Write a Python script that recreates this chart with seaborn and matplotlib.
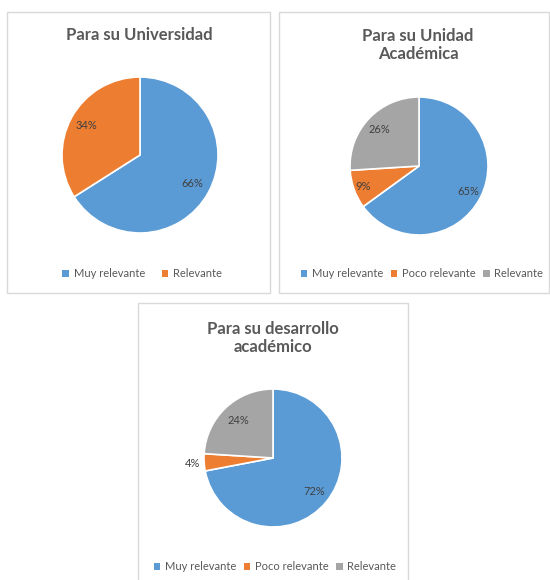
"""Three pie charts: relevance ratings (Universidad / Unidad Académica / desarrollo)."""

import numpy as np
import matplotlib.pyplot as plt
from matplotlib.patches import Patch, Rectangle
import seaborn as sns

# --- data -----------------------------------------------------------------
titles = ["Para su Universidad", "Para su Unidad\nAcadémica", "Para su desarrollo\nacadémico"]
uni_labels = ["Muy relevante", "Relevante"]
uni_values = [66, 34]
unidad_labels = ["Muy relevante", "Poco relevante", "Relevante"]
unidad_values = [65, 9, 26]
desarrollo_labels = ["Muy relevante", "Poco relevante", "Relevante"]
desarrollo_values = [72, 4, 24]

colors = {"Muy relevante": "#5B9BD5", "Poco relevante": "#ED7D31", "Relevante": "#A5A5A5"}
uni_colors = ["#5B9BD5", "#ED7D31"]  # the 2-slice chart uses orange for "Relevante"

W, H = 550, 580

# layout in pixels (from top-left): box, pie centre, radius, title, legend
panels = [
    dict(labels=uni_labels, values=uni_values, cols=uni_colors, title=titles[0],
         box=(7, 12, 263, 281), center=(140, 155), r=78, title_xy=(139, 35),
         leg_xy=(142, 274), colsp=1.5, pct=[0.77, 0.79]),
    dict(labels=unidad_labels, values=unidad_values,
         cols=[colors[l] for l in unidad_labels], title=titles[1],
         box=(279, 12, 270, 281), center=(419, 166), r=69, title_xy=(418, 45),
         leg_xy=(422, 274), colsp=0.7, pct=[0.8, 0.86, 0.78]),
    dict(labels=desarrollo_labels, values=desarrollo_values,
         cols=[colors[l] for l in desarrollo_labels], title=titles[2],
         box=(138, 303, 270, 280), center=(273, 458), r=69, title_xy=(273, 338),
         leg_xy=(275, 567), colsp=0.7, pct=[0.77, 1.17, 0.74]),
]


def fx(px):
    return px / W


def fy(py):
    return 1 - py / H


def main() -> None:
    sns.set_theme(style="white")
    plt.rcParams["font.family"] = ["Lato", "DejaVu Sans"]

    fig = plt.figure(figsize=(W / 100, H / 100), dpi=100)
    fig.patch.set_facecolor("white")

    for p in panels:
        bx, by, bw, bh = p["box"]
        fig.add_artist(Rectangle((fx(bx), fy(by + bh)), bw / W, bh / H,
                                 transform=fig.transFigure, fill=False,
                                 edgecolor="#D9D9D9", linewidth=1))

        cx, cy = p["center"]
        r = p["r"]
        ax = fig.add_axes([fx(cx - r), fy(cy + r), 2 * r / W, 2 * r / H])
        wedges, _ = ax.pie(p["values"], colors=p["cols"], startangle=90,
                           counterclock=False,
                           wedgeprops=dict(edgecolor="white", linewidth=1.2))
        ax.set_xlim(-1, 1)
        ax.set_ylim(-1, 1)
        ax.set_aspect("equal")
        ax.axis("off")

        # percentage labels at the middle of each wedge
        for w, v, d in zip(wedges, p["values"], p["pct"]):
            ang = np.deg2rad((w.theta1 + w.theta2) / 2)
            ax.text(d * np.cos(ang), d * np.sin(ang), f"{v}%", ha="center",
                    va="center", fontsize=8, color="#404040")

        fig.text(fx(p["title_xy"][0]), fy(p["title_xy"][1]), p["title"],
                 ha="center", va="center", fontsize=12, fontweight="bold",
                 color="#595959", linespacing=1.2)

        handles = [Patch(facecolor=c, edgecolor="none") for c in p["cols"]]
        fig.legend(handles, p["labels"], loc="center",
                   bbox_to_anchor=(fx(p["leg_xy"][0]), fy(p["leg_xy"][1])),
                   ncol=len(handles), frameon=False, fontsize=8,
                   handlelength=0.6, handleheight=0.6, handletextpad=0.4,
                   columnspacing=p["colsp"], labelcolor="#595959")

    fig.savefig("out.png", dpi=100, facecolor="white")


if __name__ == "__main__":
    main()
